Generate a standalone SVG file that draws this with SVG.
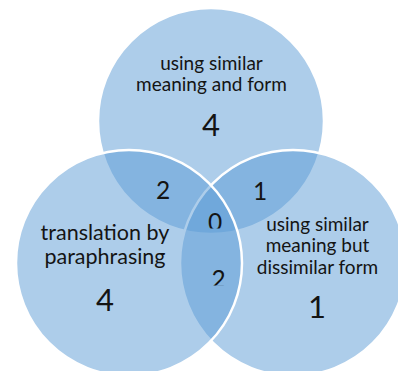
<svg xmlns="http://www.w3.org/2000/svg" width="398" height="371" viewBox="0 0 398 371">
  <style>
    .set { fill: #5B9BD5; fill-opacity: 0.5; stroke: #FFFFFF; stroke-width: 2.5; }
    text { font-family: Lato, "Liberation Sans", sans-serif; fill: #141414; text-anchor: middle; }
    .lbl { font-size: 19px; }
    .lbl-lg { font-size: 21.5px; }
    .num { font-size: 31px; }
    .num-sm { font-size: 24.5px; }
  </style>
  <defs>
    <!-- text boxes of the centre overlaps cut off the lower part of their digits -->
    <clipPath id="clip-center">
      <rect x="195" y="200" width="40" height="28.5"/>
    </clipPath>
    <clipPath id="clip-lower">
      <rect x="195" y="260" width="40" height="25.5"/>
    </clipPath>
  </defs>

  <g id="set-similar-meaning-form">
    <circle class="set" cx="211" cy="121" r="113"/>
    <text class="lbl" x="211.5" y="70">using similar</text>
    <text class="lbl" x="211.5" y="91">meaning and form</text>
    <text class="num" x="211" y="135.5">4</text>
  </g>

  <g id="set-similar-meaning-dissimilar-form">
    <circle class="set" cx="293" cy="263" r="113"/>
    <text class="lbl" x="317.5" y="231">using similar</text>
    <text class="lbl" x="317.5" y="252">meaning but</text>
    <text class="lbl" x="317.5" y="274">dissimilar form</text>
    <text class="num" x="317" y="318">1</text>
  </g>

  <g id="set-paraphrasing">
    <circle class="set" cx="129" cy="263" r="113"/>
    <text class="lbl-lg" x="105" y="240">translation by</text>
    <text class="lbl-lg" x="105" y="264">paraphrasing</text>
    <text class="num" x="105" y="311">4</text>
  </g>

  <g id="overlap-top-left">
    <text class="num-sm" x="163" y="199">2</text>
  </g>
  <g id="overlap-top-right">
    <text class="num-sm" x="260" y="200">1</text>
  </g>
  <g id="overlap-all">
    <text class="num-sm" x="215" y="230.5" clip-path="url(#clip-center)">0</text>
  </g>
  <g id="overlap-left-right">
    <text class="num-sm" x="218.5" y="288" clip-path="url(#clip-lower)">2</text>
  </g>
</svg>
